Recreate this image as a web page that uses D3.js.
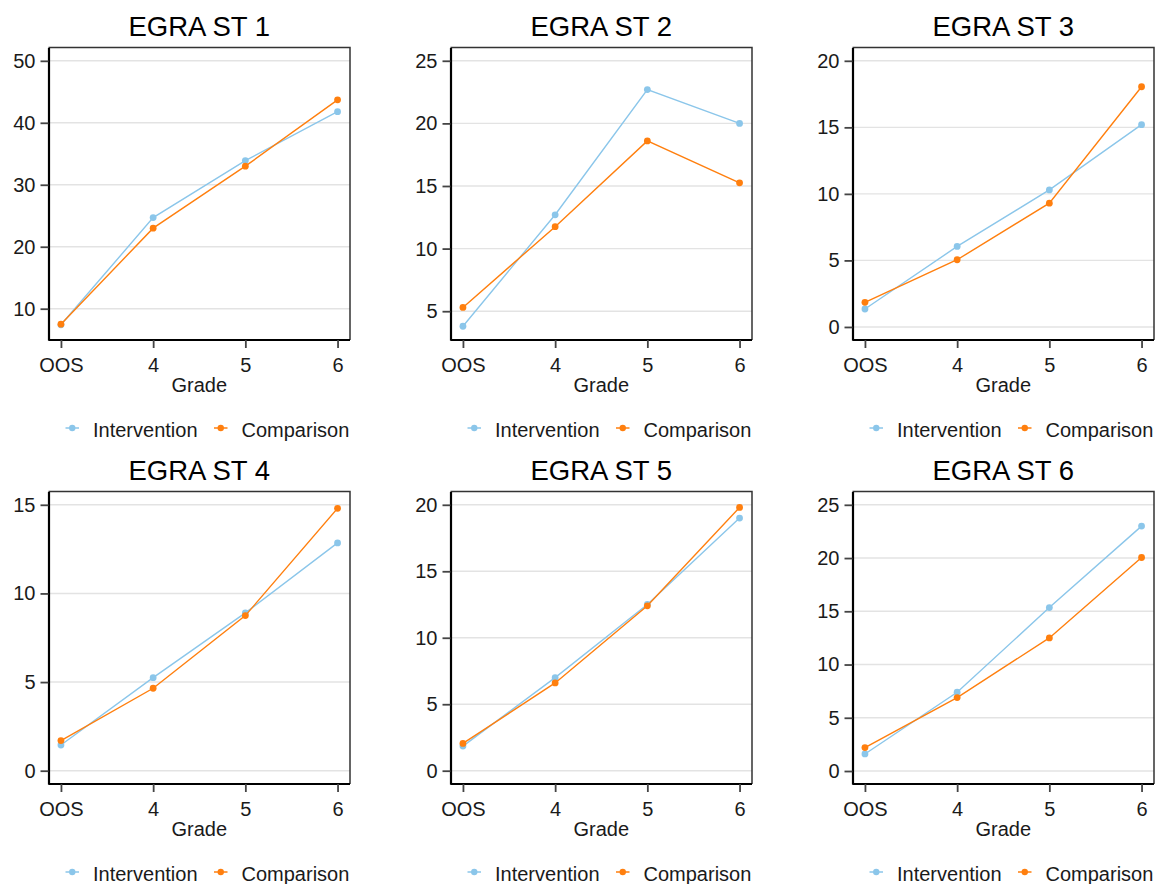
<!DOCTYPE html>
<html>
<head>
<meta charset="utf-8">
<script src="https://cdn.jsdelivr.net/npm/d3@7"></script>
<style>
  html, body { margin: 0; padding: 0; background: #fff; }
  svg { display: block; font-family: "Liberation Sans", Arial, sans-serif; }
</style>
</head>
<body>
<svg id="chart" width="1163" height="884"></svg>
<script>
// Grades on the x axis
const grades = ["OOS", "4", "5", "6"];

// Panel titles
const titles = ["EGRA ST 1", "EGRA ST 2", "EGRA ST 3", "EGRA ST 4", "EGRA ST 5", "EGRA ST 6"];

// Mean scores by grade, one array per subtest
const intervention = [
  [7.4, 24.7, 33.9, 41.8],
  [3.8, 12.7, 22.7, 20.0],
  [1.35, 6.05, 10.3, 15.2],
  [1.45, 5.25, 8.9, 12.85],
  [1.85, 7.0, 12.5, 19.0],
  [1.6, 7.4, 15.35, 23.0]
];
const comparison = [
  [7.5, 23.0, 33.0, 43.7],
  [5.3, 11.75, 18.6, 15.25],
  [1.85, 5.05, 9.3, 18.05],
  [1.7, 4.65, 8.75, 14.8],
  [2.05, 6.6, 12.4, 19.8],
  [2.2, 6.9, 12.5, 20.05]
];

// Y axis ranges and tick values per panel
const yDomains = [
  [4.95, 52.15],
  [2.7, 26.06],
  [-0.98, 21.0],
  [-0.75, 15.75],
  [-1.0, 21.0],
  [-1.22, 26.25]
];
const yTicks = [
  [10, 20, 30, 40, 50],
  [5, 10, 15, 20, 25],
  [0, 5, 10, 15, 20],
  [0, 5, 10, 15],
  [0, 5, 10, 15, 20],
  [0, 5, 10, 15, 20, 25]
];

const seriesNames = ["Intervention", "Comparison"];
const colors = { Intervention: "#8bc6ea", Comparison: "#ff7f0e" };

const svg = d3.select("#chart");

// Panel frame geometry
const colX = [48.5, 450.5, 852.5];
const rowY = [47.5, 491.5];
const frameW = 301.5;
const frameH = 292.5;

titles.forEach((title, i) => {
  const col = i % 3, row = Math.floor(i / 3);
  const g = svg.append("g").attr("transform", `translate(${colX[col]},${rowY[row]})`);

  const x = d3.scalePoint().domain(grades).range([0, frameW]).padding(0.135);
  const y = d3.scaleLinear().domain(yDomains[i]).range([frameH, 0]);

  // gridlines
  g.append("g").selectAll("line").data(yTicks[i]).join("line")
    .attr("x1", 0).attr("x2", frameW)
    .attr("y1", d => y(d)).attr("y2", d => y(d))
    .attr("stroke", "#e3e3e3").attr("stroke-width", 1.4);

  // top and right frame
  g.append("path")
    .attr("d", `M0,0H${frameW}V${frameH}`)
    .attr("fill", "none").attr("stroke", "#333").attr("stroke-width", 1.5);

  // y axis
  const yAxis = g.append("g").call(
    d3.axisLeft(y).tickValues(yTicks[i]).tickSize(8).tickPadding(5).tickSizeOuter(0)
  );
  yAxis.select(".domain").attr("stroke", "#000").attr("stroke-width", 2.2);
  yAxis.selectAll(".tick line").attr("stroke", "#444").attr("stroke-width", 1.8);
  yAxis.selectAll(".tick text").attr("font-size", 20).attr("fill", "#1a1a1a")
    .attr("font-family", "Liberation Sans, Arial, sans-serif");

  // x axis
  const xAxis = g.append("g").attr("transform", `translate(0,${frameH})`).call(
    d3.axisBottom(x).tickSize(8).tickPadding(10).tickSizeOuter(0)
  );
  xAxis.select(".domain").attr("stroke", "#000").attr("stroke-width", 2.2)
    .attr("d", `M0,0H${frameW}`);
  xAxis.selectAll(".tick line").attr("stroke", "#444").attr("stroke-width", 1.8);
  xAxis.selectAll(".tick text").attr("font-size", 20).attr("fill", "#1a1a1a")
    .attr("font-family", "Liberation Sans, Arial, sans-serif");

  // x axis title
  g.append("text")
    .attr("x", frameW / 2).attr("y", frameH + 52)
    .attr("text-anchor", "middle").attr("font-size", 20).attr("fill", "#1a1a1a")
    .text("Grade");

  // panel title
  g.append("text")
    .attr("x", frameW / 2).attr("y", -11.5)
    .attr("text-anchor", "middle").attr("font-size", 27.5).attr("fill", "#000")
    .text(title);

  // series lines and markers
  const line = d3.line().x((d, j) => x(grades[j])).y(d => y(d));
  [["Intervention", intervention[i]], ["Comparison", comparison[i]]].forEach(([name, vals]) => {
    g.append("path").datum(vals)
      .attr("d", line).attr("fill", "none")
      .attr("stroke", colors[name]).attr("stroke-width", 1.4);
    g.append("g").selectAll("circle").data(vals).join("circle")
      .attr("cx", (d, j) => x(grades[j])).attr("cy", d => y(d))
      .attr("r", 3.4).attr("fill", colors[name]);
  });

  // legend
  const legend = g.append("g").attr("transform", `translate(0,${frameH + 88})`);
  const legendOffsets = [17, 165.5];
  seriesNames.forEach((name, k) => {
    const lg = legend.append("g").attr("transform", `translate(${legendOffsets[k]},0)`);
    lg.append("line").attr("x1", 0).attr("x2", 13.5).attr("y1", 0).attr("y2", 0)
      .attr("stroke", colors[name]).attr("stroke-width", 1.5);
    lg.append("circle").attr("cx", 6.75).attr("cy", 0).attr("r", 3.2).attr("fill", colors[name]);
    lg.append("text").attr("x", 27.5).attr("y", 9)
      .attr("font-size", 20).attr("fill", "#1a1a1a").text(name);
  });
});
</script>
</body>
</html>
